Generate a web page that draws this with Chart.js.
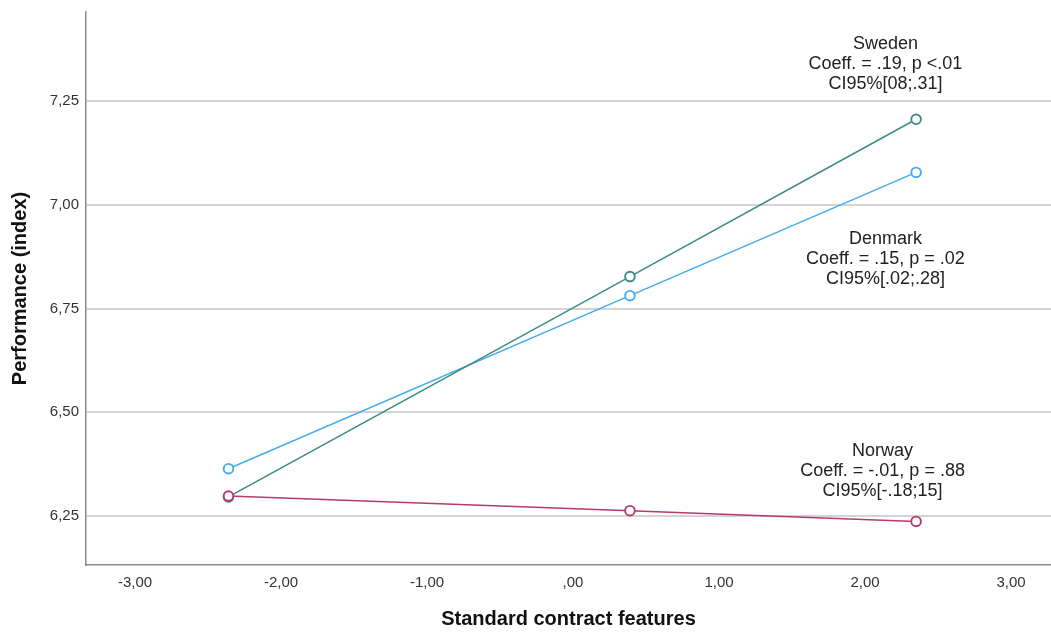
<!DOCTYPE html>
<html>
<head>
<meta charset="utf-8">
<script src="https://cdn.jsdelivr.net/npm/chart.js@4/dist/chart.umd.min.js"></script>
<style>
    html, body { margin: 0; padding: 0; background: #fff; overflow: hidden; }
    #wrap { position: absolute; left: 0; top: 0; width: 1051px; height: 632px; }
</style>
</head>
<body>
<div id="wrap"><canvas id="plot"></canvas></div>
<script>
// Values
const xValues = [-2.36, 0.39, 2.35];
const sweden = [6.296, 6.827, 7.206];
const denmark = [6.364, 6.781, 7.078];
const norway = [6.298, 6.263, 6.237];

const xTicks = [-3, -2, -1, 0, 1, 2, 3];
const xTickLabels = ['-3,00', '-2,00', '-1,00', ',00', '1,00', '2,00', '3,00'];
const yTicks = [6.25, 6.5, 6.75, 7.0, 7.25];
const yTickLabels = ['6,25', '6,50', '6,75', '7,00', '7,25'];

const countries = ['Sweden', 'Denmark', 'Norway'];
const coeffTexts = ['Coeff. = .19, p <.01', 'Coeff. = .15, p = .02', 'Coeff. = -.01, p = .88'];
const ciTexts = ['CI95%[08;.31]', 'CI95%[.02;.28]', 'CI95%[-.18;15]'];
// where each label block sits, in data units
const labelX = [2.14, 2.14, 2.12];
const labelY = [7.387, 6.917, 6.407];

const FONT = '"Liberation Sans", Arial, sans-serif';

function toPoints(vals) {
    return vals.map((v, i) => ({ x: xValues[i], y: v }));
}

function lineSet(label, vals, color, order) {
    return {
        label: label,
        data: toPoints(vals),
        borderColor: color,
        borderWidth: 1.5,
        pointRadius: 4.8,
        pointHoverRadius: 4.8,
        pointBorderWidth: 1.9,
        pointBorderColor: color,
        pointBackgroundColor: '#fff',
        tension: 0,
        order: order
    };
}

// text blocks next to the lines
const notesPlugin = {
    id: 'notes',
    afterDatasetsDraw(chart) {
        const ctx = chart.ctx;
        const sx = chart.scales.x, sy = chart.scales.y;
        ctx.save();
        ctx.font = '18px ' + FONT;
        ctx.fillStyle = '#222';
        ctx.textAlign = 'center';
        ctx.textBaseline = 'middle';
        countries.forEach((c, i) => {
            const px = sx.getPixelForValue(labelX[i]);
            const py = sy.getPixelForValue(labelY[i]);
            ctx.fillText(c, px, py);
            ctx.fillText(coeffTexts[i], px, py + 20);
            ctx.fillText(ciTexts[i], px, py + 40);
        });
        ctx.restore();
    }
};

new Chart(document.getElementById('plot'), {
    type: 'line',
    data: {
        datasets: [
            lineSet('Sweden', sweden, '#3b8a84', 1),
            lineSet('Denmark', denmark, '#42acee', 2),
            lineSet('Norway', norway, '#b53a6e', 0)
        ]
    },
    options: {
        responsive: true,
        maintainAspectRatio: false,
        animation: false,
        layout: { autoPadding: false, padding: { top: 12, right: 0, left: 0, bottom: 0 } },
        plugins: {
            legend: { display: false },
            tooltip: { enabled: false }
        },
        scales: {
            x: {
                type: 'linear',
                min: -3.336,
                max: 3.274,
                afterBuildTicks: s => { s.ticks = xTicks.map(v => ({ value: v })); },
                afterFit: s => { s.height = 67; s.paddingLeft = 0; s.paddingRight = 0; },
                grid: { display: false, drawTicks: false },
                border: { display: true, color: '#8a8a8a', width: 1.5 },
                ticks: {
                    padding: 9,
                    color: '#333',
                    font: { family: FONT, size: 15 },
                    maxRotation: 0,
                    callback: (v) => xTickLabels[xTicks.indexOf(v)]
                },
                title: {
                    display: true,
                    text: 'Standard contract features',
                    color: '#111',
                    font: { family: FONT, size: 20, weight: 'bold' },
                    padding: { top: 0, bottom: 1 }
                }
            },
            y: {
                type: 'linear',
                min: 6.132,
                max: 7.4645,
                afterBuildTicks: s => { s.ticks = yTicks.map(v => ({ value: v })); },
                afterFit: s => { s.width = 86; s.paddingTop = 0; s.paddingBottom = 0; },
                grid: { color: '#d4d4d4', lineWidth: 2, drawTicks: false },
                border: { display: true, color: '#8a8a8a', width: 1.5 },
                ticks: {
                    padding: 7,
                    color: '#333',
                    font: { family: FONT, size: 15 },
                    callback: (v) => yTickLabels[yTicks.indexOf(v)]
                },
                title: {
                    display: true,
                    text: 'Performance (index)',
                    color: '#111',
                    font: { family: FONT, size: 20, weight: 'bold' },
                    padding: { top: 8, bottom: 0 }
                }
            }
        }
    },
    plugins: [notesPlugin]
});
</script>
</body>
</html>
